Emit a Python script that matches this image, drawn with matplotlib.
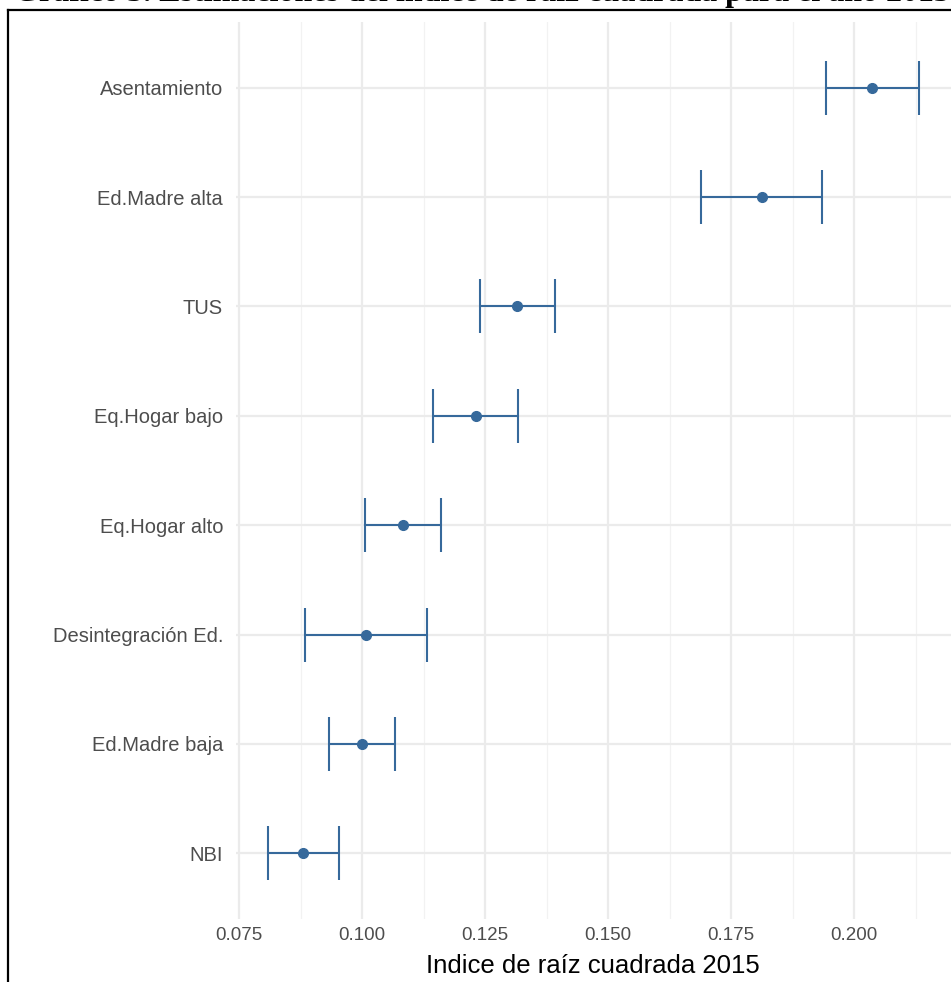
import matplotlib
matplotlib.use("Agg")
import matplotlib.pyplot as plt
from matplotlib.lines import Line2D
import numpy as np

# datos (de abajo hacia arriba)
categorias = ["NBI", "Ed.Madre baja", "Desintegración Ed.", "Eq.Hogar alto",
              "Eq.Hogar bajo", "TUS", "Ed.Madre alta", "Asentamiento"]
estimacion = [0.0880, 0.1000, 0.1008, 0.1083, 0.1232, 0.1315, 0.1813, 0.2037]
limite_inf = [0.0809, 0.0933, 0.0884, 0.1006, 0.1144, 0.1240, 0.1689, 0.1942]
limite_sup = [0.0953, 0.1067, 0.1132, 0.1161, 0.1317, 0.1392, 0.1935, 0.2131]
ticks_x = [0.075, 0.100, 0.125, 0.150, 0.175, 0.200]
titulo = "Gráfico 3. Estimaciones del índice de raíz cuadrada para el año 2015"

azul = "#36699B"
W, H = 951, 982

fig = plt.figure(figsize=(W / 100, H / 100), dpi=100)
ax = fig.add_axes([235.6 / W, 1 - 919 / H, (W - 235.6) / W, (919 - 22) / H])

y = np.arange(len(categorias))
est = np.array(estimacion)
err = [est - np.array(limite_inf), np.array(limite_sup) - est]
ax.errorbar(est, y, xerr=err, fmt="o", color=azul, ecolor=azul,
            elinewidth=1.5, capsize=27 * 0.72, capthick=1.5, markersize=7, zorder=3)

ax.set_xlim(0.0743, 0.2197)
ax.set_ylim(-0.6, len(categorias) - 0.4)
ax.set_yticks(y)
ax.set_yticklabels(categorias)
ax.set_xticks(ticks_x)
ax.set_xticklabels([f"{t:.3f}" for t in ticks_x])
ax.set_xticks([t + 0.0125 for t in ticks_x], minor=True)

for s in ax.spines.values():
    s.set_visible(False)
ax.grid(True, which="major", color="#EBEBEB", linewidth=1.6, zorder=0)
ax.grid(True, which="minor", axis="x", color="#F2F2F2", linewidth=0.9, zorder=0)
ax.set_axisbelow(True)
ax.tick_params(which="both", length=0)
ax.tick_params(axis="y", labelsize=14.5, labelcolor="#4D4D4D", pad=9)
ax.tick_params(axis="x", labelsize=13.5, labelcolor="#4D4D4D", pad=6)
for lab in ax.get_xticklabels() + ax.get_yticklabels():
    lab.set_family("Liberation Sans")
ax.set_xlabel("Indice de raíz cuadrada 2015", fontsize=18.5, family="Liberation Sans",
              labelpad=7)

# marco del documento y título recortado (la captura lo corta arriba)
fig.add_artist(Line2D([8 / W, 8 / W], [0, 1 - 10 / H], color="black", lw=1.6))
fig.add_artist(Line2D([8 / W, 1], [1 - 10 / H, 1 - 10 / H], color="black", lw=1.6))
fig.text(14 / W, 1 - 1.5 / H, titulo, family="Liberation Serif", fontweight="bold",
         fontsize=23, va="baseline", ha="left")

fig.savefig("out.png", dpi=100)
